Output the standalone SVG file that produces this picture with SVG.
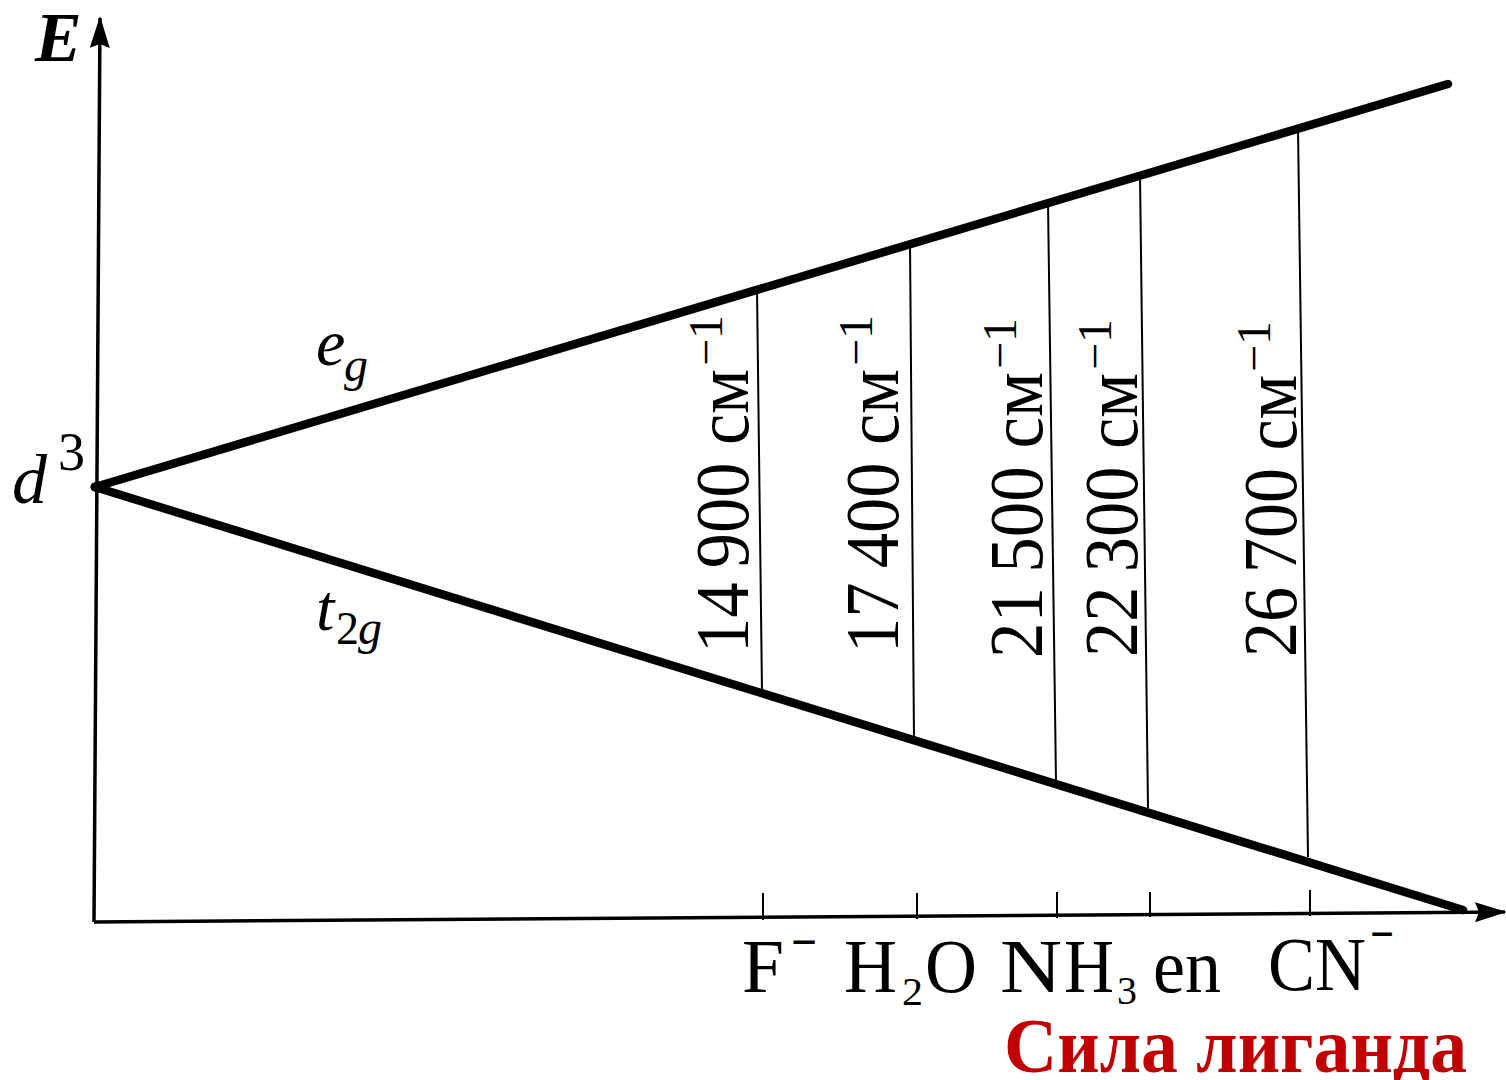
<svg xmlns="http://www.w3.org/2000/svg" width="1506" height="1080" viewBox="0 0 1506 1080">
<style>
  .ser{font-family:"Liberation Serif","Times New Roman",serif;fill:#000}
  .it{font-style:italic}
  .rot{font-size:76px}
  .sup{font-size:48px}
  .lig{font-size:76px}
  .sub{font-size:40px}
  .mn{font-size:48px;font-weight:bold}
  .axis{stroke:#000;stroke-width:3.5;fill:none}
  .lvl{stroke:#000;stroke-width:8.5;fill:none;stroke-linecap:round}
  .gap{stroke:#000;stroke-width:2;fill:none}
</style>
<defs>
  <marker id="ah" viewBox="0 0 32 20" refX="30" refY="10" markerWidth="32" markerHeight="20" markerUnits="userSpaceOnUse" orient="auto">
    <path d="M0,0 L32,10 L0,20 L4,10 Z" fill="#000"/>
  </marker>
</defs>
<rect width="1506" height="1080" fill="#fff"/>

<g id="connectors">
  <line id="axis-y" class="axis" x1="94" y1="922" x2="100" y2="18" marker-end="url(#ah)"/>
  <line id="axis-x" class="axis" x1="94" y1="922" x2="1505" y2="912" marker-end="url(#ah)"/>
  <line id="eg-line" class="lvl" x1="95" y1="487" x2="1448" y2="84"/>
  <line id="t2g-line" class="lvl" x1="95" y1="487" x2="1463" y2="910"/>
  <line class="gap" x1="757" y1="289" x2="762" y2="692"/>
  <line class="gap" x1="910" y1="243" x2="914" y2="738"/>
  <line class="gap" x1="1048" y1="202" x2="1056" y2="782"/>
  <line class="gap" x1="1140" y1="175" x2="1148" y2="808"/>
  <line class="gap" x1="1298" y1="128" x2="1308" y2="857"/>
  <line class="gap" x1="763" y1="893" x2="763" y2="920"/>
  <line class="gap" x1="917" y1="893" x2="917" y2="919"/>
  <line class="gap" x1="1057" y1="892" x2="1057" y2="918"/>
  <line class="gap" x1="1150" y1="892" x2="1150" y2="917"/>
  <line class="gap" x1="1310" y1="890" x2="1310" y2="916"/>
</g>

<g id="node-E"><text class="ser it" x="35" y="61" font-size="70" font-weight="bold">E</text></g>
<g id="node-d3"><circle cx="95" cy="487" r="4.5" fill="#000"/><text class="ser it" x="12" y="503" font-size="70">d</text><text class="ser" x="58" y="470" font-size="54">3</text></g>
<g id="node-eg"><text class="ser it" x="316" y="365" font-size="66">e</text><text class="ser it" x="344" y="381" font-size="48">g</text></g>
<g id="node-t2g"><text class="ser it" x="316" y="630" font-size="66">t</text><text class="ser" x="336" y="644" font-size="46">2</text><text class="ser it" x="358" y="644" font-size="48">g</text></g>

<g id="label-14900" transform="translate(748,653) rotate(-90)"><text class="ser rot" textLength="284" lengthAdjust="spacingAndGlyphs">14&#8201;900 см</text><text class="ser sup" x="287" y="-26">−1</text></g>
<g id="label-17400" transform="translate(898,653) rotate(-90)"><text class="ser rot" textLength="284" lengthAdjust="spacingAndGlyphs">17&#8201;400 см</text><text class="ser sup" x="287" y="-26">−1</text></g>
<g id="label-21500" transform="translate(1042,658) rotate(-90)"><text class="ser rot" textLength="286" lengthAdjust="spacingAndGlyphs">21&#8201;500 см</text><text class="ser sup" x="289" y="-26">−1</text></g>
<g id="label-22300" transform="translate(1137,657) rotate(-90)"><text class="ser rot" textLength="284" lengthAdjust="spacingAndGlyphs">22&#8201;300 см</text><text class="ser sup" x="287" y="-26">−1</text></g>
<g id="label-26700" transform="translate(1296,657) rotate(-90)"><text class="ser rot" textLength="282" lengthAdjust="spacingAndGlyphs">26&#8201;700 см</text><text class="ser sup" x="285" y="-26">−1</text></g>

<g id="ligand-F"><text class="ser lig" x="742" y="992" textLength="42" lengthAdjust="spacingAndGlyphs">F</text><text class="ser mn" x="791" y="958" textLength="26" lengthAdjust="spacingAndGlyphs">−</text></g>
<g id="ligand-H2O"><text class="ser lig" x="844" y="992" textLength="53" lengthAdjust="spacingAndGlyphs">H</text><text class="ser sub" x="902" y="1005" textLength="21" lengthAdjust="spacingAndGlyphs">2</text><text class="ser lig" x="925" y="992" textLength="52" lengthAdjust="spacingAndGlyphs">O</text></g>
<g id="ligand-NH3"><text class="ser lig" x="1000" y="992" textLength="62" lengthAdjust="spacingAndGlyphs">N</text><text class="ser lig" x="1064" y="992" textLength="50" lengthAdjust="spacingAndGlyphs">H</text><text class="ser sub" x="1117" y="1004" textLength="20" lengthAdjust="spacingAndGlyphs">3</text></g>
<g id="ligand-en"><text class="ser lig" x="1153" y="992" textLength="68" lengthAdjust="spacingAndGlyphs">en</text></g>
<g id="ligand-CN"><text class="ser lig" x="1268" y="990" textLength="98" lengthAdjust="spacingAndGlyphs">CN</text><text class="ser mn" x="1370" y="950" textLength="24" lengthAdjust="spacingAndGlyphs">−</text></g>

<g id="title"><text x="1004" y="1072" font-family="Liberation Serif,Times New Roman,serif" font-weight="bold" font-size="78" fill="#c00000" textLength="463" lengthAdjust="spacingAndGlyphs">Сила лиганда</text></g>
</svg>
